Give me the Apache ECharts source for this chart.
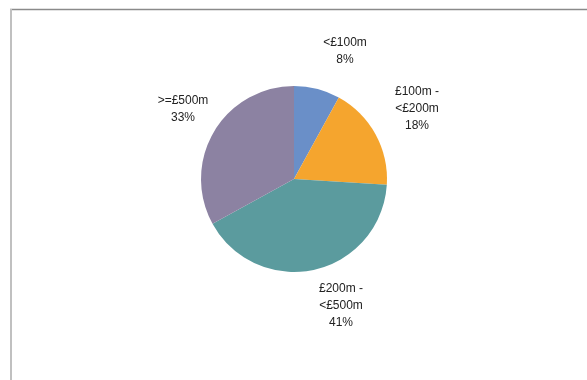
<!DOCTYPE html>
<html>
<head>
<meta charset="utf-8">
<script src="https://cdn.jsdelivr.net/npm/echarts@6/dist/echarts.min.js"></script>
<style>
  html, body { margin: 0; padding: 0; background: #fff; }
  #chart { width: 587px; height: 380px; }
</style>
</head>
<body>
<div id="chart"></div>
<script>
// Share of deals by size band
const bands = ['<£100m', '£100m -\n<£200m', '£200m -\n<£500m', '>=£500m'];
const shares = [8, 18, 41, 33];
const colours = ['#6a8fc8', '#f5a52e', '#5b9b9e', '#8c82a2'];
// Where each band's label sits (centre of the text block)
const labelPos = [[345, 51], [417, 109], [341, 306], [183, 109]];

const chart = echarts.init(document.getElementById('chart'), null, { renderer: 'canvas' });

chart.setOption({
  backgroundColor: '#ffffff',
  animation: false,
  graphic: [
    // frame: top and left rules
    { type: 'line', shape: { x1: 10, y1: 9.5, x2: 587, y2: 9.5 }, style: { stroke: '#8a8a8a', lineWidth: 1.5 } },
    { type: 'line', shape: { x1: 11, y1: 9, x2: 11, y2: 380 }, style: { stroke: '#c0c0c0', lineWidth: 2 } }
  ],
  series: [{
    type: 'pie',
    center: [294, 179],
    radius: 93,
    startAngle: 90,
    clockwise: true,
    data: bands.map((name, i) => ({
      name: name,
      value: shares[i],
      itemStyle: { color: colours[i] }
    })),
    label: {
      show: true,
      position: 'outside',
      formatter: p => p.name + '\n' + p.value + '%',
      color: '#222',
      fontFamily: 'Liberation Sans, Arial, sans-serif',
      fontSize: 12,
      lineHeight: 17,
      align: 'center'
    },
    labelLine: { show: false },
    labelLayout: function (params) {
      const p = labelPos[params.dataIndex];
      return { x: p[0], y: p[1], align: 'center', verticalAlign: 'middle' };
    },
    emphasis: { disabled: true }
  }]
});
</script>
</body>
</html>
